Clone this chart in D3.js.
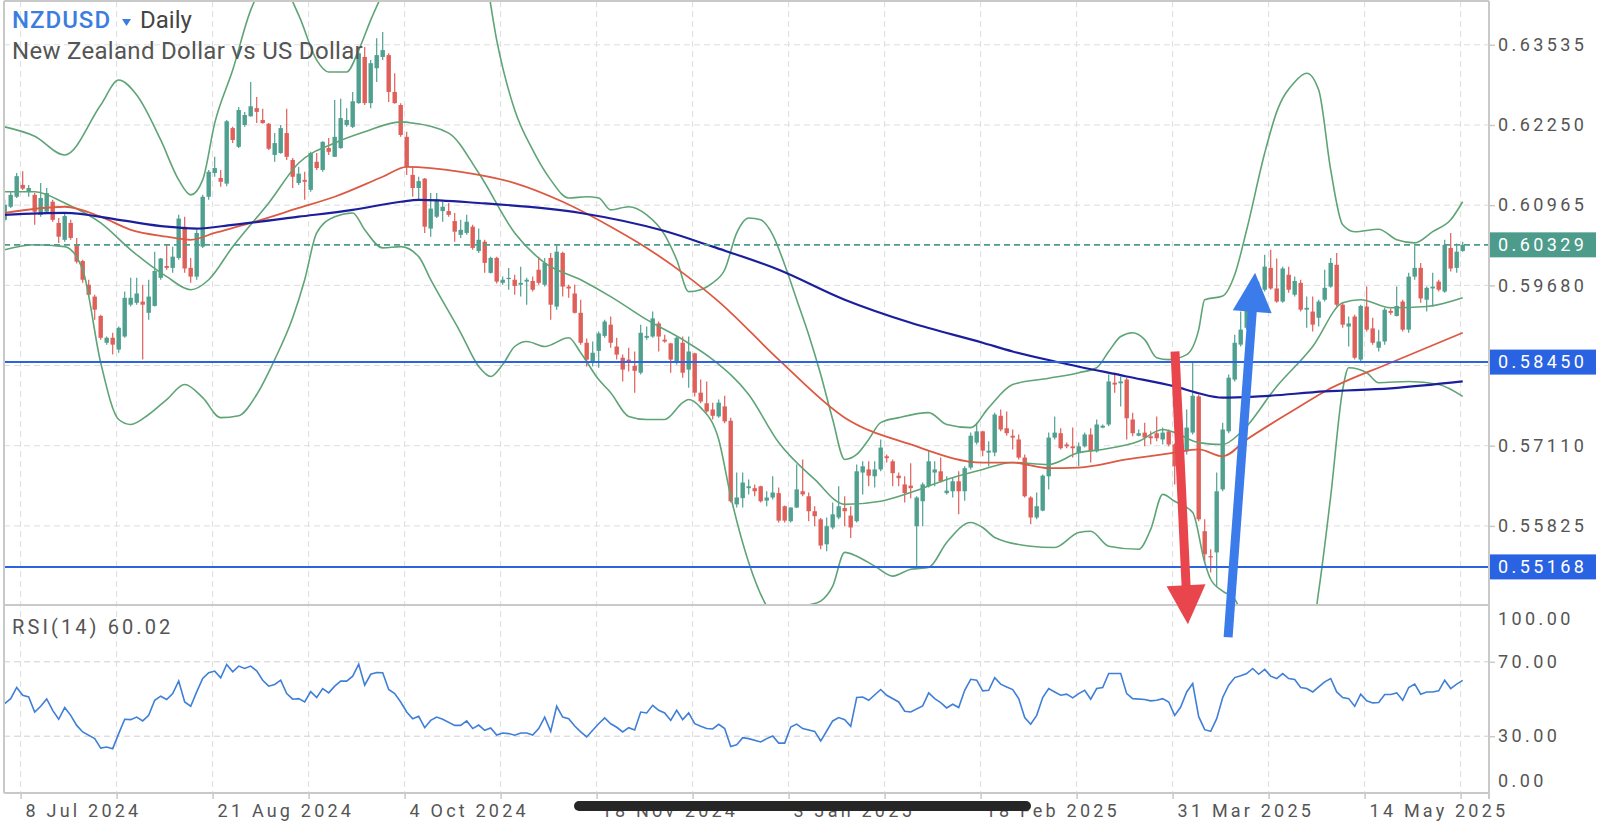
<!DOCTYPE html>
<html><head><meta charset="utf-8">
<script src="https://cdn.jsdelivr.net/npm/d3@7"></script>
<style>
html,body{margin:0;padding:0;background:#fff;overflow:hidden;}
svg{display:block;}
text{font-family:Roboto,"Noto Sans",sans-serif;}
</style></head><body>
<svg id="c" width="1598" height="827"></svg>
<script>
// ---------------- DATA ----------------
const open = [
0.6073,0.6094,0.6110,0.6129,0.6118,0.6113,0.6081,0.6086,0.6102,0.6068,
0.6041,0.6068,0.6033,0.6007,0.5969,0.5950,0.5919,0.5876,0.5884,0.5865,
0.5886,0.5937,0.5940,0.5942,0.5924,0.5935,0.5980,0.5999,0.5996,0.6012,
0.6062,0.5996,0.5982,0.6030,0.6110,0.6148,0.6140,0.6131,0.6220,0.6190,
0.6225,0.6239,0.6252,0.6233,0.6227,0.6177,0.6180,0.6212,0.6169,0.6132,
0.6137,0.6121,0.6166,0.6153,0.6188,0.6174,0.6188,0.6225,0.6222,0.6260,
0.6334,0.6260,0.6316,0.6334,0.6337,0.6278,0.6257,0.6206,0.6145,0.6124,
0.6139,0.6059,0.6078,0.6087,0.6087,0.6071,0.6049,0.6052,0.6062,0.6023,
0.6038,0.5988,0.6012,0.5972,0.5979,0.5977,0.5969,0.5974,0.5975,0.5993,
0.5969,0.6012,0.5934,0.6020,0.5966,0.5955,0.5924,0.5876,0.5844,0.5863,
0.5887,0.5905,0.5870,0.5852,0.5849,0.5839,0.5828,0.5884,0.5886,0.5907,
0.5881,0.5875,0.5844,0.5876,0.5833,0.5859,0.5796,0.5779,0.5769,0.5758,
0.5774,0.5751,0.5617,0.5627,0.5643,0.5643,0.5646,0.5623,0.5628,0.5635,
0.5614,0.5590,0.5612,0.5638,0.5630,0.5606,0.5593,0.5553,0.5580,0.5596,
0.5611,0.5599,0.5590,0.5668,0.5673,0.5662,0.5673,0.5694,0.5686,0.5663,
0.5649,0.5647,0.5582,0.5622,0.5646,0.5668,0.5670,0.5635,0.5638,0.5654,
0.5638,0.5676,0.5716,0.5734,0.5700,0.5700,0.5759,0.5739,0.5727,0.5721,
0.5692,0.5628,0.5596,0.5607,0.5662,0.5724,0.5731,0.5713,0.5710,0.5699,
0.5710,0.5729,0.5702,0.5740,0.5745,0.5812,0.5811,0.5817,0.5753,0.5727,
0.5732,0.5726,0.5731,0.5721,0.5734,0.5713,0.5678,0.5702,0.5732,0.5790,
0.5574,0.5534,0.5540,0.5641,0.5734,0.5817,0.5873,0.5900,0.5929,0.5945,
0.5961,0.5996,0.5963,0.5942,0.5985,0.5953,0.5972,0.5929,0.5926,0.5916,
0.5945,0.5966,0.6001,0.5937,0.5902,0.5918,0.5849,0.5934,0.5899,0.5868,
0.5878,0.5927,0.5919,0.5942,0.5897,0.5982,0.5996,0.5945,0.5963,0.5974,
0.5958,0.6028,0.5996,0.6023];
const high = [
0.6105,0.6118,0.6148,0.6151,0.6129,0.6116,0.6132,0.6124,0.6105,0.6076,
0.6084,0.6073,0.6044,0.6009,0.5977,0.5953,0.5921,0.5886,0.5892,0.5902,
0.5958,0.5980,0.5980,0.5969,0.5977,0.6022,0.6012,0.6033,0.6030,0.6081,
0.6078,0.6012,0.6057,0.6113,0.6153,0.6174,0.6153,0.6233,0.6222,0.6254,
0.6246,0.6294,0.6270,0.6251,0.6228,0.6212,0.6225,0.6251,0.6172,0.6158,
0.6150,0.6182,0.6180,0.6199,0.6204,0.6265,0.6267,0.6252,0.6278,0.6348,
0.6350,0.6329,0.6364,0.6374,0.6340,0.6308,0.6260,0.6214,0.6158,0.6142,
0.6140,0.6116,0.6116,0.6102,0.6100,0.6084,0.6073,0.6081,0.6065,0.6059,
0.6041,0.6014,0.6014,0.5982,0.5996,0.5985,0.5998,0.5980,0.5982,0.6014,
0.6012,0.6020,0.6033,0.6022,0.5969,0.5969,0.5945,0.5883,0.5878,0.5894,
0.5913,0.5918,0.5884,0.5857,0.5868,0.5862,0.5905,0.5902,0.5926,0.5910,
0.5889,0.5876,0.5886,0.5886,0.5886,0.5860,0.5817,0.5814,0.5780,0.5785,
0.5791,0.5756,0.5668,0.5668,0.5657,0.5649,0.5647,0.5638,0.5662,0.5644,
0.5615,0.5612,0.5681,0.5689,0.5636,0.5614,0.5595,0.5596,0.5620,0.5646,
0.5630,0.5614,0.5681,0.5686,0.5686,0.5686,0.5721,0.5697,0.5689,0.5668,
0.5662,0.5683,0.5630,0.5652,0.5702,0.5686,0.5692,0.5662,0.5660,0.5670,
0.5678,0.5732,0.5748,0.5735,0.5718,0.5764,0.5769,0.5766,0.5737,0.5729,
0.5697,0.5630,0.5636,0.5665,0.5732,0.5758,0.5739,0.5716,0.5740,0.5716,
0.5732,0.5739,0.5753,0.5745,0.5825,0.5828,0.5822,0.5820,0.5764,0.5737,
0.5748,0.5734,0.5758,0.5740,0.5737,0.5715,0.5721,0.5769,0.5844,0.5793,
0.5593,0.5545,0.5668,0.5748,0.5825,0.5889,0.5926,0.5937,0.5953,0.5974,
0.6017,0.6025,0.6011,0.5998,0.5998,0.5982,0.5977,0.5950,0.5950,0.5945,
0.5993,0.6012,0.6020,0.5940,0.5918,0.5921,0.5937,0.5966,0.5916,0.5897,
0.5932,0.5931,0.5966,0.5945,0.5988,0.6031,0.6004,0.5966,0.5988,0.5977,
0.6041,0.6052,0.6035,0.6038];
const low = [
0.6070,0.6092,0.6108,0.6121,0.6110,0.6065,0.6078,0.6083,0.6070,0.6036,
0.6038,0.6041,0.6003,0.5972,0.5950,0.5913,0.5881,0.5873,0.5857,0.5860,
0.5884,0.5934,0.5937,0.5849,0.5913,0.5934,0.5977,0.5993,0.5988,0.6009,
0.5988,0.5972,0.5977,0.6028,0.6105,0.6142,0.6126,0.6127,0.6196,0.6188,
0.6222,0.6238,0.6228,0.6227,0.6185,0.6166,0.6179,0.6169,0.6124,0.6129,
0.6105,0.6118,0.6153,0.6150,0.6177,0.6174,0.6187,0.6222,0.6220,0.6259,
0.6257,0.6252,0.6294,0.6329,0.6262,0.6259,0.6206,0.6145,0.6110,0.6105,
0.6052,0.6046,0.6076,0.6070,0.6078,0.6038,0.6044,0.6049,0.6025,0.6020,
0.5988,0.5987,0.5971,0.5969,0.5961,0.5953,0.5950,0.5937,0.5958,0.5969,
0.5966,0.5913,0.5929,0.5950,0.5948,0.5923,0.5873,0.5838,0.5838,0.5836,
0.5884,0.5868,0.5849,0.5814,0.5830,0.5796,0.5825,0.5881,0.5884,0.5862,
0.5876,0.5828,0.5841,0.5820,0.5804,0.5790,0.5779,0.5764,0.5753,0.5756,
0.5747,0.5620,0.5612,0.5612,0.5633,0.5630,0.5620,0.5614,0.5625,0.5588,
0.5588,0.5588,0.5611,0.5630,0.5590,0.5582,0.5545,0.5542,0.5577,0.5593,
0.5582,0.5563,0.5588,0.5633,0.5646,0.5644,0.5670,0.5684,0.5646,0.5646,
0.5620,0.5627,0.5518,0.5582,0.5644,0.5646,0.5652,0.5633,0.5628,0.5601,
0.5623,0.5673,0.5713,0.5694,0.5678,0.5694,0.5734,0.5727,0.5705,0.5689,
0.5628,0.5585,0.5593,0.5606,0.5641,0.5721,0.5705,0.5707,0.5692,0.5678,
0.5708,0.5684,0.5700,0.5739,0.5742,0.5796,0.5774,0.5721,0.5726,0.5726,
0.5710,0.5713,0.5718,0.5713,0.5710,0.5649,0.5673,0.5697,0.5729,0.5590,
0.5524,0.5508,0.5484,0.5638,0.5731,0.5814,0.5870,0.5897,0.5923,0.5940,
0.5958,0.5961,0.5940,0.5940,0.5956,0.5950,0.5926,0.5900,0.5894,0.5902,
0.5942,0.5964,0.5934,0.5900,0.5870,0.5849,0.5846,0.5894,0.5873,0.5862,
0.5873,0.5921,0.5918,0.5894,0.5892,0.5977,0.5940,0.5926,0.5934,0.5958,
0.5956,0.5990,0.5988,0.6022];
const close = [
0.6097,0.6113,0.6143,0.6123,0.6124,0.6086,0.6108,0.6116,0.6073,0.6046,
0.6079,0.6044,0.6006,0.5977,0.5953,0.5929,0.5884,0.5884,0.5873,0.5900,
0.5948,0.5948,0.5955,0.5937,0.5950,0.5991,0.6011,0.5996,0.6014,0.6075,
0.5995,0.5982,0.6052,0.6110,0.6150,0.6156,0.6134,0.6231,0.6201,0.6249,
0.6241,0.6255,0.6246,0.6228,0.6187,0.6196,0.6220,0.6174,0.6142,0.6147,
0.6134,0.6180,0.6156,0.6198,0.6182,0.6206,0.6236,0.6233,0.6263,0.6340,
0.6260,0.6324,0.6337,0.6345,0.6278,0.6260,0.6209,0.6158,0.6124,0.6135,
0.6062,0.6091,0.6105,0.6094,0.6081,0.6054,0.6057,0.6070,0.6028,0.6041,
0.6004,0.6012,0.5974,0.5977,0.5980,0.5967,0.5972,0.5977,0.5961,0.5972,
0.6004,0.5937,0.6022,0.5966,0.5963,0.5924,0.5876,0.5849,0.5860,0.5891,
0.5910,0.5876,0.5857,0.5833,0.5846,0.5831,0.5892,0.5887,0.5915,0.5886,
0.5878,0.5849,0.5884,0.5828,0.5862,0.5796,0.5782,0.5766,0.5759,0.5780,
0.5750,0.5622,0.5628,0.5652,0.5646,0.5638,0.5622,0.5628,0.5636,0.5591,
0.5591,0.5612,0.5641,0.5633,0.5606,0.5598,0.5551,0.5582,0.5601,0.5614,
0.5606,0.5580,0.5670,0.5678,0.5663,0.5673,0.5708,0.5691,0.5667,0.5659,
0.5635,0.5643,0.5628,0.5649,0.5686,0.5673,0.5654,0.5639,0.5654,0.5638,
0.5675,0.5727,0.5734,0.5703,0.5703,0.5761,0.5737,0.5731,0.5724,0.5692,
0.5630,0.5596,0.5614,0.5663,0.5724,0.5732,0.5707,0.5710,0.5707,0.5710,
0.5729,0.5702,0.5745,0.5743,0.5814,0.5809,0.5814,0.5755,0.5731,0.5731,
0.5724,0.5723,0.5723,0.5732,0.5713,0.5678,0.5702,0.5740,0.5791,0.5593,
0.5537,0.5532,0.5638,0.5737,0.5820,0.5876,0.5897,0.5929,0.5945,0.5961,
0.5998,0.5963,0.5942,0.5995,0.5961,0.5975,0.5929,0.5932,0.5905,0.5942,
0.5964,0.6004,0.5937,0.5905,0.5907,0.5852,0.5935,0.5897,0.5876,0.5878,
0.5929,0.5924,0.5935,0.5897,0.5982,0.5996,0.5947,0.5964,0.5966,0.5961,
0.6033,0.5995,0.6022,0.60329];

// indicator lines: [candle index, value]
const bbUpper = [[0,0.6222],[5,0.6207],[10,0.6177],[16,0.6257],[19,0.6297],[22,0.6273],[26,0.6201],[29,0.6137],[31,0.6113],[33,0.6137],[35,0.6228],[38,0.6313],[41,0.6409],[45,0.6465],[49,0.6401],[52,0.6329],[54,0.6310],[57,0.6310],[59,0.6345],[61,0.6393],[64,0.6457],[70,0.6585],[76,0.6569],[80,0.6473],[82,0.6361],[85,0.6249],[88,0.6185],[91,0.6137],[94,0.6108],[97,0.6110],[99,0.6108],[101,0.6089],[104,0.6094],[107,0.6081],[110,0.6049],[112,0.6009],[114,0.5958],[116,0.5961],[118,0.5972],[120,0.5993],[122,0.6052],[124,0.6076],[126,0.6073],[128,0.6049],[130,0.6001],[132,0.5945],[134,0.5889],[136,0.5825],[138,0.5753],[140,0.5689],[142,0.5697],[144,0.5721],[146,0.5748],[149,0.5756],[154,0.5764],[157,0.5745],[161,0.5740],[164,0.5772],[168,0.5809],[174,0.5819],[179,0.5828],[182,0.5836],[184,0.5862],[186,0.5886],[188,0.5892],[190,0.5881],[192,0.5852],[194,0.5849],[197,0.5857],[199,0.5897],[200,0.5945],[203,0.5951],[205,0.5985],[207,0.6057],[210,0.6180],[212,0.6246],[215,0.6294],[217,0.6308],[219,0.6281],[221,0.6153],[223,0.6065],[225,0.6054],[229,0.6058],[232,0.6041],[235,0.6036],[238,0.6054],[241,0.6073],[243,0.6102]];
const bbMiddle = [[0,0.6118],[5,0.6118],[10,0.6100],[16,0.6068],[21,0.6025],[27,0.5982],[31,0.5961],[34,0.5977],[38,0.6030],[44,0.6100],[49,0.6164],[55,0.6196],[60,0.6214],[66,0.6230],[68,0.6228],[74,0.6212],[79,0.6148],[85,0.6052],[90,0.6004],[96,0.5977],[101,0.5950],[107,0.5913],[113,0.5881],[118,0.5849],[124,0.5793],[129,0.5716],[135,0.5657],[140,0.5617],[146,0.5622],[151,0.5636],[157,0.5657],[163,0.5673],[168,0.5684],[174,0.5681],[179,0.5700],[183,0.5705],[189,0.5718],[193,0.5737],[195,0.5732],[199,0.5716],[203,0.5713],[206,0.5732],[212,0.5806],[218,0.5870],[223,0.5940],[226,0.5945],[231,0.5932],[237,0.5934],[243,0.5948]];
const bbLower = [[0,0.6025],[5,0.6033],[10,0.6030],[13,0.5993],[16,0.5844],[19,0.5753],[21,0.5745],[24,0.5761],[27,0.5785],[30,0.5809],[33,0.5788],[36,0.5756],[39,0.5759],[42,0.5793],[45,0.5849],[48,0.5916],[50,0.5977],[52,0.6052],[55,0.6078],[58,0.6084],[60,0.6057],[63,0.6028],[66,0.6030],[69,0.6014],[71,0.5977],[76,0.5892],[79,0.5838],[81,0.5822],[83,0.5841],[85,0.5870],[87,0.5878],[90,0.5870],[94,0.5884],[96,0.5860],[99,0.5817],[101,0.5796],[104,0.5758],[107,0.5753],[110,0.5753],[113,0.5780],[114,0.5785],[116,0.5772],[119,0.5721],[121,0.5630],[124,0.5524],[127,0.5454],[130,0.5425],[133,0.5452],[136,0.5462],[138,0.5486],[140,0.5540],[142,0.5534],[145,0.5518],[148,0.5502],[151,0.5513],[154,0.5516],[157,0.5556],[161,0.5588],[163,0.5580],[165,0.5564],[171,0.5550],[175,0.5548],[179,0.5572],[181,0.5574],[184,0.5550],[189,0.5545],[191,0.5577],[193,0.5633],[195,0.5622],[198,0.5604],[200,0.5524],[201,0.5497],[203,0.5478],[205,0.5465],[207,0.5425],[210,0.5385],[214,0.5369],[218,0.5417],[219,0.5478],[221,0.5630],[223,0.5801],[224,0.5836],[227,0.5828],[229,0.5812],[234,0.5814],[239,0.5809],[243,0.5790]];
const maRed = [[0,0.6084],[10,0.6094],[16,0.6078],[21,0.6057],[27,0.6046],[31,0.6041],[35,0.6052],[41,0.6068],[49,0.6092],[55,0.6110],[63,0.6142],[67,0.6158],[76,0.6150],[85,0.6132],[93,0.6102],[101,0.6062],[107,0.6028],[113,0.5988],[119,0.5942],[129,0.5849],[140,0.5756],[151,0.5713],[163,0.5684],[168,0.5684],[174,0.5675],[179,0.5676],[187,0.5689],[195,0.5700],[199,0.5705],[203,0.5694],[207,0.5721],[215,0.5769],[220,0.5798],[231,0.5844],[243,0.5892]];
const maNavy = [[0,0.6081],[10,0.6084],[19,0.6073],[27,0.6062],[32,0.6059],[38,0.6065],[49,0.6078],[58,0.6089],[66,0.6102],[69,0.6105],[79,0.6100],[96,0.6084],[110,0.6055],[118,0.6030],[129,0.5993],[140,0.5945],[151,0.5908],[163,0.5876],[168,0.5862],[176,0.5844],[187,0.5822],[195,0.5806],[199,0.5795],[203,0.5788],[209,0.5790],[220,0.5798],[231,0.5803],[243,0.5814]];

const rsiIdx = [0,1,2,3,4,5,6,7,8,9,10,11,12,13,15,16,17,18,19,20,21,22,23,24,25,26,27,28,29,30,31,32,33,34,35,36,37,38,39,40,41,42,43,44,45,46,47,48,49,50,51,52,53,54,55,56,57,58,59,60,61,62,63,64,65,66,67,68,69,70,71,72,73,75,76,77,78,79,80,81,82,83,84,85,86,87,88,89,90,91,92,93,94,95,96,97,98,99,100,101,102,103,104,105,106,107,108,109,110,111,112,113,114,115,116,117,118,119,120,121,122,123,124,126,127,128,129,130,131,132,133,135,136,137,138,139,140,141,142,143,144,146,147,149,150,151,153,154,155,156,157,158,159,160,161,162,163,164,165,166,167,168,169,170,171,172,173,174,175,176,177,178,179,180,181,182,183,184,185,186,187,188,190,191,192,193,194,195,196,197,198,199,200,201,202,203,204,205,206,207,208,209,210,211,212,213,214,215,216,217,218,219,220,221,222,223,224,225,226,227,228,229,230,231,232,233,234,235,236,237,238,239,240,241,242,243];
const rsiVal = [47.5,50.2,56.2,52.0,51.1,43.0,46.1,50.0,43.9,39.1,45.4,41.2,35.8,32.3,28.7,23.6,24.2,23.3,31.4,39.1,38.9,40.3,38.2,41.2,49.3,51.5,49.7,52.9,59.7,48.4,46.1,53.8,61.0,64.1,65.0,61.4,68.6,64.6,67.7,66.4,67.7,65.1,60.1,56.9,57.8,60.1,52.9,49.9,50.2,48.4,54.0,50.8,55.6,53.3,56.9,59.6,59.6,62.3,68.7,57.4,63.3,64.2,64.1,55.1,52.9,48.4,43.0,39.4,40.7,34.6,38.5,40.3,39.1,35.8,35.8,38.2,34.1,36.0,33.2,34.4,30.6,31.7,31.4,30.5,31.7,31.7,30.6,34.1,40.3,32.6,46.1,40.3,39.4,35.5,32.3,29.6,33.2,36.7,39.8,36.7,34.8,32.3,34.6,33.3,43.0,42.5,46.6,43.9,42.5,38.5,43.9,38.9,42.5,36.7,35.3,34.1,33.9,36.4,34.1,24.5,25.4,29.2,28.7,26.9,28.7,30.1,26.3,26.3,34.9,36.5,34.1,32.6,27.4,32.8,38.2,40.0,38.9,35.3,50.8,51.1,49.3,55.1,52.0,48.4,43.4,43.0,46.3,53.3,50.2,48.1,45.2,47.2,45.4,54.7,60.6,60.1,54.4,54.7,61.5,58.0,56.5,55.1,50.2,40.0,36.4,41.2,50.8,55.6,53.8,52.0,52.6,50.6,52.9,54.7,49.9,55.6,56.2,63.7,63.7,63.7,52.9,50.2,49.7,49.0,49.3,50.2,48.4,41.2,45.7,53.8,58.3,40.5,33.5,32.6,39.4,50.8,57.4,61.5,62.5,63.7,66.4,63.3,65.9,62.3,61.0,63.7,61.0,60.5,56.2,55.6,53.8,56.5,59.2,61.0,53.8,50.8,50.2,46.1,52.6,49.0,47.9,48.1,52.4,52.4,53.3,49.3,56.2,58.0,52.6,53.8,53.8,54.4,60.1,55.6,58.0,60.02];

const priceTicks = [0.63535,0.62250,0.60965,0.59680,0.58395,0.57110,0.55825];
const hiddenTickLabels = [0.58395];
const rsiTicks = [100,70,30,0];
const rsiGrid = [70,30];
const dateLabels = ["8 Jul 2024","21 Aug 2024","4 Oct 2024","18 Nov 2024","3 Jan 2025","18 Feb 2025","31 Mar 2025","14 May 2025"];
const dateLabelIdx = [2.65,34.65,66.65,98.65,130.65,162.65,194.65,226.65];
const gridIdx = [2.65,18.65,34.65,50.65,66.65,82.65,98.65,114.65,130.65,146.65,162.65,178.65,194.65,210.65,226.65,242.65];
const levels = [0.58450,0.55168];
const lastPrice = 0.60329;
const rsiLast = "60.02";
const arrows = [
  {from:[195.05,0.5862], to:[197.2,0.5425], color:"#e9454c"},
  {from:[203.9,0.5404], to:[208.4,0.5988], color:"#3b7bea"}
];

// ---------------- LAYOUT ----------------
const L=4, R=1489, T=1, PB=605, RB=793;
const svg = d3.select("#c");
const x = d3.scaleLinear().domain([0,243]).range([4.7,1462.7]);
const y = d3.scaleLinear().domain([0.55825,0.63535]).range([525.9,44.8]);
const yr = d3.scaleLinear().domain([0,100]).range([792,606]);

const UP="#4fa08f", DN="#df5f59", GRID="#dddddd", FRAME="#c9c9c9", AXT="#555555";

const defs = svg.append("defs");
defs.append("clipPath").attr("id","cp").append("rect").attr("x",L).attr("y",T).attr("width",R-L).attr("height",PB-T);
defs.append("clipPath").attr("id","cr").append("rect").attr("x",L).attr("y",PB).attr("width",R-L).attr("height",RB-PB);

// grid
const g = svg.append("g");
g.selectAll(".vg").data(gridIdx).join("line")
  .attr("x1",d=>x(d)).attr("x2",d=>x(d)).attr("y1",T).attr("y2",RB)
  .attr("stroke",GRID).attr("stroke-width",1).attr("stroke-dasharray","6,4");
g.selectAll(".hg").data(priceTicks).join("line")
  .attr("x1",L).attr("x2",R).attr("y1",d=>y(d)).attr("y2",d=>y(d))
  .attr("stroke",GRID).attr("stroke-width",1).attr("stroke-dasharray","6,4");
g.selectAll(".rg").data(rsiGrid).join("line")
  .attr("x1",L).attr("x2",R).attr("y1",d=>yr(d)).attr("y2",d=>yr(d))
  .attr("stroke","#cfcfcf").attr("stroke-width",1).attr("stroke-dasharray","6,4");

// price panel
const pp = svg.append("g").attr("clip-path","url(#cp)");
const idx = d3.range(open.length);
const cg = pp.append("g");
cg.selectAll("line").data(idx).join("line")
  .attr("x1",i=>x(i)).attr("x2",i=>x(i))
  .attr("y1",i=>y(Math.max(high[i],open[i],close[i])))
  .attr("y2",i=>y(Math.min(low[i],open[i],close[i])))
  .attr("stroke",i=>close[i]>=open[i]?UP:DN).attr("stroke-width",1.2);
cg.selectAll("rect").data(idx).join("rect")
  .attr("x",i=>x(i)-2.2).attr("width",4.4)
  .attr("y",i=>y(Math.max(open[i],close[i])))
  .attr("height",i=>Math.max(1.2,Math.abs(y(open[i])-y(close[i]))))
  .attr("fill",i=>close[i]>=open[i]?UP:DN);

const line = d3.line().x(d=>x(d[0])).y(d=>y(d[1])).curve(d3.curveMonotoneX);
[[bbUpper,"#5fa477",1.6],[bbMiddle,"#5fa477",1.6],[bbLower,"#5fa477",1.6],[maRed,"#dc5a43",1.8],[maNavy,"#1c1f9c",2.2]]
 .forEach(([d,c,w])=>pp.append("path").attr("d",line(d)).attr("fill","none").attr("stroke",c).attr("stroke-width",w));

// level lines
pp.selectAll(".lv").data(levels).join("line")
  .attr("x1",L).attr("x2",R).attr("y1",d=>y(d)).attr("y2",d=>y(d))
  .attr("stroke","#2b63e0").attr("stroke-width",2);
pp.append("line").attr("x1",L).attr("x2",R).attr("y1",y(lastPrice)).attr("y2",y(lastPrice))
  .attr("stroke","#4f9c8c").attr("stroke-width",1.6).attr("stroke-dasharray","6,4");

// RSI
const rp = svg.append("g").attr("clip-path","url(#cr)");
const rsiLine = d3.line().x(d=>x(d[0])).y(d=>yr(d[1]));
rp.append("path").attr("d",rsiLine(rsiIdx.map((d,k)=>[d,rsiVal[k]])))
  .attr("fill","none").attr("stroke","#3f7fd6").attr("stroke-width",1.6);

// frame
const fr = svg.append("g").attr("stroke",FRAME).attr("stroke-width",2);
fr.append("line").attr("x1",L).attr("x2",R).attr("y1",T).attr("y2",T);
fr.append("line").attr("x1",L).attr("x2",L).attr("y1",T).attr("y2",RB);
fr.append("line").attr("x1",R).attr("x2",R).attr("y1",T).attr("y2",RB+6);
fr.append("line").attr("x1",L).attr("x2",R).attr("y1",PB).attr("y2",PB);
fr.append("line").attr("x1",L).attr("x2",R).attr("y1",RB).attr("y2",RB);

// axes
const f5 = d3.format(".5f");
const ax = svg.append("g").attr("transform",`translate(${R},0)`)
  .call(d3.axisRight(y).tickValues(priceTicks).tickFormat(d=>hiddenTickLabels.includes(d)?"":f5(d)).tickSize(6).tickPadding(3));
ax.select(".domain").remove();
ax.selectAll("line").attr("stroke",FRAME).attr("stroke-width",1.5);
ax.selectAll("text").attr("font-size",18).attr("letter-spacing","3.4px").attr("fill",AXT).attr("font-family","Roboto");

const axr = svg.append("g").attr("transform",`translate(${R},0)`)
  .call(d3.axisRight(yr).tickValues(rsiTicks).tickFormat(d3.format(".2f")).tickSize(6).tickPadding(3));
axr.select(".domain").remove();
axr.selectAll("line").attr("stroke",FRAME).attr("stroke-width",1.5).attr("opacity",d=>(d===70||d===30)?1:0);
axr.selectAll("text").attr("font-size",18).attr("letter-spacing","3.4px").attr("fill",AXT).attr("font-family","Roboto")
  .attr("dy",d=>d===100?"1.05em":(d===0?"-0.3em":"0.32em"));

const axb = svg.append("g").attr("transform",`translate(0,${RB})`)
  .call(d3.axisBottom(x).tickValues(gridIdx).tickFormat("").tickSize(6));
axb.select(".domain").remove();
axb.selectAll("line").attr("stroke",FRAME).attr("stroke-width",1.5);

svg.append("g").selectAll("text").data(dateLabels).join("text")
  .attr("x",(d,k)=>x(dateLabelIdx[k])+5).attr("y",817)
  .attr("font-size",18).attr("letter-spacing","3.2px").attr("fill",AXT).text(d=>d);

// scrollbar
svg.append("rect").attr("x",574).attr("y",801).attr("width",457).attr("height",10).attr("rx",5).attr("fill","#262626");

// price label boxes
function tag(v, col){
  const yy=y(v);
  svg.append("rect").attr("x",R+1).attr("y",yy-12.5).attr("width",1598-R-3).attr("height",25).attr("fill",col);
  svg.append("text").attr("x",R+9).attr("y",yy).attr("dy","0.35em").attr("font-size",18).attr("letter-spacing","3.4px")
    .attr("fill","#fff").text(f5(v));
}
tag(lastPrice,"#4d9b8a");
levels.forEach(v=>tag(v,"#2a63e2"));

// titles
svg.append("text").attr("x",12).attr("y",28).attr("font-size",24).attr("fill","#3b7ee0").attr("font-weight",500)
  .attr("letter-spacing","1px").text("NZDUSD");
svg.append("path").attr("d","M122,19 L131,19 L126.5,26 Z").attr("fill","#3b7ee0");
svg.append("text").attr("x",140).attr("y",28).attr("font-size",24).attr("fill","#444").text("Daily");
svg.append("text").attr("x",12).attr("y",59).attr("font-size",24).attr("fill","#555").attr("letter-spacing","0.3px").text("New Zealand Dollar vs US Dollar");
svg.append("text").attr("x",12).attr("y",634).attr("font-size",20).attr("fill","#555").attr("letter-spacing","3.1px").text("RSI(14) " + rsiLast);

// arrows
arrows.forEach(a=>{
  const x0=x(a.from[0]), y0=y(a.from[1]), x1=x(a.to[0]), y1=y(a.to[1]);
  const dx=x1-x0, dy=y1-y0, len=Math.hypot(dx,dy), ux=dx/len, uy=dy/len;
  const hl=39, hw=19.5;
  const bx=x1-ux*hl, by=y1-uy*hl;
  svg.append("line").attr("x1",x0).attr("y1",y0).attr("x2",bx+ux*2).attr("y2",by+uy*2)
    .attr("stroke",a.color).attr("stroke-width",9);
  svg.append("path").attr("d",`M${x1},${y1} L${bx-uy*hw},${by+ux*hw} L${bx+uy*hw},${by-ux*hw} Z`).attr("fill",a.color);
});
</script>
</body></html>
